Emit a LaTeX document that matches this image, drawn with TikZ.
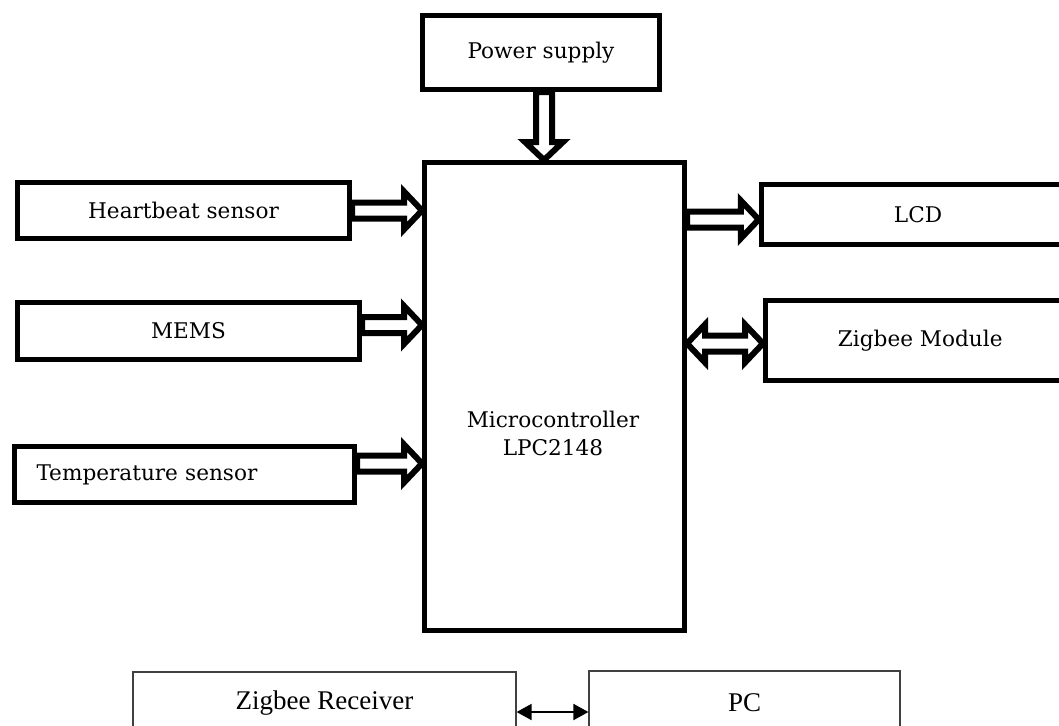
\documentclass[tikz,border=0pt]{standalone}
\usepackage{fontspec}
\setmainfont{Liberation Serif}
\newfontfamily\blockfont{DejaVu Serif}
\usetikzlibrary{
arrows.meta,
calc
}

\begin{document}
\begin{tikzpicture}[
x=0.5pt, y=-0.5pt,
block/.style={
draw,
line width=2.5pt,
inner sep=0pt,
align=center,
font=\blockfont\fontsize{10.8}{13}\selectfont
},
plainbox/.style={
draw=black!75,
line width=0.6pt,
inner sep=0pt,
align=center,
font=\fontsize{13.5}{16}\selectfont
},
fat/.style={line width=3pt, fill=white, to path={
($(\tikztostart)!4pt!90:(\tikztotarget)$)
-- ($(\tikztotarget)!9pt!(\tikztostart)!4pt!90:(\tikztotarget)$)
-- ($(\tikztotarget)!9pt!(\tikztostart)!9.5pt!90:(\tikztotarget)$)
-- (\tikztotarget)
-- ($(\tikztotarget)!9pt!(\tikztostart)!9.5pt!-90:(\tikztotarget)$)
-- ($(\tikztotarget)!9pt!(\tikztostart)!4pt!-90:(\tikztotarget)$)
-- ($(\tikztostart)!4pt!-90:(\tikztotarget)$)
-- cycle}},
fatboth/.style={line width=3pt, fill=white, to path={
(\tikztostart)
-- ($(\tikztostart)!9pt!(\tikztotarget)!9.5pt!-90:(\tikztostart)$)
-- ($(\tikztostart)!9pt!(\tikztotarget)!4pt!-90:(\tikztostart)$)
-- ($(\tikztotarget)!9pt!(\tikztostart)!4pt!90:(\tikztotarget)$)
-- ($(\tikztotarget)!9pt!(\tikztostart)!9.5pt!90:(\tikztotarget)$)
-- (\tikztotarget)
-- ($(\tikztotarget)!9pt!(\tikztostart)!9.5pt!-90:(\tikztotarget)$)
-- ($(\tikztotarget)!9pt!(\tikztostart)!4pt!-90:(\tikztotarget)$)
-- ($(\tikztostart)!9pt!(\tikztotarget)!4pt!90:(\tikztostart)$)
-- ($(\tikztostart)!9pt!(\tikztotarget)!9.5pt!90:(\tikztostart)$)
-- cycle}},
link/.style={line width=1pt, {Triangle[length=7.5pt,width=8pt]}-{Triangle[length=7.5pt,width=8pt]}}
]

\useasboundingbox (0,0) rectangle (1059,725);
\clip (0,0) rectangle (1059,725);

\node[block, minimum width=118.5pt, minimum height=37pt] (power) at (541,52.5) {Power supply};
\node[block, minimum width=130pt, minimum height=234pt] (micro) at (554.5,396.5) {};
\node[font=\blockfont\fontsize{10.8}{14}\selectfont, align=center] (microtext) at (553,433) {Microcontroller\\LPC2148};

\node[block, minimum width=166pt, minimum height=28pt] (heart) at (183.5,210.5) {Heartbeat sensor};
\node[block, minimum width=171pt, minimum height=28.5pt] (mems) at (188.5,331) {MEMS};
\node[block, minimum width=170pt, minimum height=28pt, inner xsep=11pt, text width=148pt, align=left] (temp) at (184.5,474.5) {Temperature sensor};

\node[block, minimum width=156.75pt, minimum height=30pt] (lcd) at (918,214.5) {LCD};
\node[block, minimum width=154.75pt, minimum height=40pt] (zigbee) at (920.25,340.5) {Zigbee Module};

\node[plainbox, minimum width=191.5pt, minimum height=31pt] (receiver) at (324.5,703) {Zigbee Receiver};
\node[plainbox, minimum width=155.5pt, minimum height=31.5pt] (pc) at (744.5,702.5) {PC};

\draw[fat] (power.south -| 544,0) to (micro.north -| 544,0);
\draw[fat] (heart.east) to (heart.east -| micro.west);
\draw[fat] ([yshift=3pt]mems.east) to ([yshift=3pt]mems.east -| micro.west);
\draw[fat] ([yshift=5.5pt]temp.east) to ([yshift=5.5pt]temp.east -| micro.west);
\draw[fat] ([yshift=-2.5pt]lcd.west -| micro.east) to ([yshift=-2.5pt]lcd.west);
\draw[fatboth] ([yshift=-1.5pt]zigbee.west -| micro.east) to ([yshift=-1.5pt]zigbee.west);
\draw[link] ([yshift=-4.5pt]receiver.east) -- ([yshift=-4.5pt]receiver.east -| pc.west);

\end{tikzpicture}
\end{document}
